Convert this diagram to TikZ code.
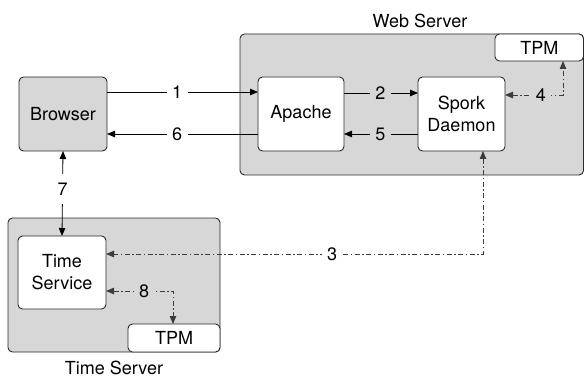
\documentclass[tikz,border=0pt]{standalone}
\usepackage{fontspec}
\setmainfont{TeX Gyre Heros}
\usetikzlibrary{arrows.meta,calc}
\definecolor{boxgray}{HTML}{D7D7D7}
\definecolor{edge}{HTML}{2A2A2A}
\definecolor{ddcol}{HTML}{3C3C3C}
\begin{document}
\begin{tikzpicture}[x=1pt,y=-1pt,
  font=\fontsize{18}{22}\selectfont,
  every node/.style={inner sep=0pt, outer sep=0pt},
  compbox/.style={draw=edge, line width=0.9pt, rounded corners=4.5pt, align=center},
  whitebox/.style={compbox, fill=white},
  graybox/.style={compbox, fill=boxgray},
  arr/.style={line width=0.8pt, draw=black, -{Triangle[length=8pt,width=6.5pt]}},
  barr/.style={line width=0.8pt, draw=black, {Triangle[length=8pt,width=6.5pt]}-{Triangle[length=8pt,width=6.5pt]}},
  dd/.style={line width=0.8pt, draw=ddcol, dash pattern=on 5pt off 2.5pt on 1.5pt off 2.5pt,
    {Triangle[length=8pt,width=6.5pt]}-{Triangle[length=8pt,width=6.5pt]}},
  lblw/.style={fill=white, inner xsep=5.5pt, inner ysep=1pt},
  lblg/.style={fill=boxgray, inner xsep=5.5pt, inner ysep=1pt},
  lblv/.style={fill=white, inner xsep=3pt, inner ysep=9pt},
]
\useasboundingbox (0,0) rectangle (584,377);
% containers
\draw[graybox] (240,34) rectangle (583.5,175);
\draw[graybox] (8,218) rectangle (220,352);
\node (webtpm) [whitebox, minimum width=88.5pt, minimum height=27pt] at (539.25,47.5) {TPM};
\node (timetpm) [whitebox, minimum width=92pt, minimum height=28pt] at (174,338) {TPM};
\node (weblbl) at (420,21) {Web Server};
\node (timelbl) at (114,368) {Time Server};
% components
\node (browser) [graybox, minimum width=88pt, minimum height=74pt] at (63,114) {Browser};
\node (apache) [whitebox, minimum width=86pt, minimum height=74pt] at (301,114) {Apache};
\node (spork) [whitebox, minimum width=87pt, minimum height=74pt] at (461.5,114) {Spork\\Daemon};
\node (tservice) [whitebox, minimum width=88pt, minimum height=73pt] at (62,272.5) {Time\\Service};
% connectors
\draw[arr] ([yshift=22pt]browser.east) -- node[lblw, pos=0.465]{1} ([yshift=22pt]apache.west);
\draw[arr] ([yshift=-20pt]apache.west) -- node[lblw, pos=0.535]{6} ([yshift=-20pt]browser.east);
\draw[arr] ([yshift=21pt]apache.east) -- node[lblg, pos=0.49]{2} ([yshift=21pt]spork.west);
\draw[arr] ([yshift=-20pt]spork.west) -- node[lblg, pos=0.51]{5} ([yshift=-20pt]apache.east);
\coordinate (c4) at (563,95);
\draw[dd] (spork.east |- c4) -- node[lblg, pos=0.62]{4} (c4) -- (c4 |- webtpm.south);
\coordinate (c3) at (483,254);
\draw[dd] (c3 |- spork.south) -- (c3) -- node[lblw, pos=0.4]{3} (c3 -| tservice.east);
\coordinate (c8) at (173,291);
\draw[dd] (c8 -| tservice.east) -- node[lblg, pos=0.57]{8} (c8) -- (c8 |- timetpm.north);
\draw[barr] (tservice.north) -- node[lblv, pos=0.55]{7} (browser.south);
\end{tikzpicture}
\end{document}
